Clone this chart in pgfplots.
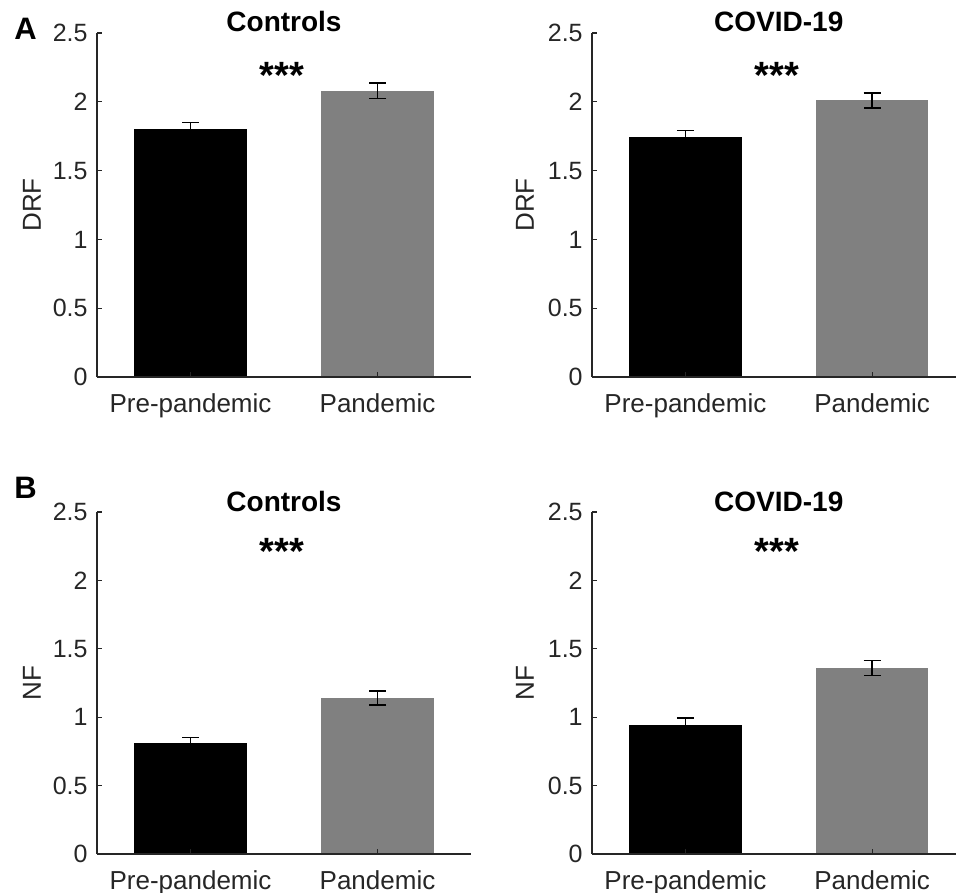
\documentclass[border=0pt]{standalone}
\usepackage{fontspec}
\setmainfont{Liberation Sans}
\usepackage{pgfplots}
\pgfplotsset{compat=1.18}

\definecolor{axgray}{RGB}{38,38,38}
\definecolor{bargray}{RGB}{128,128,128}

\pgfplotsset{
  panel/.style={
    scale only axis, width=187pt, height=172pt,
    ymin=0, ymax=2.5, ytick={0,0.5,1,1.5,2,2.5},
    yticklabels={0,0.5,1,1.5,2,2.5},
    xmin=0.5, xmax=2.5,
    xtick={1,2}, xticklabels={Pre-pandemic,Pandemic},
    axis x line*=bottom, axis y line*=left,
    axis line style={axgray, line width=0.8pt, -},
    tick style={axgray, line width=0.6pt},
    tick align=inside, major tick length=2.5pt,
    axis on top,
    yticklabel style={font=\fontsize{12.5}{15}\selectfont, text=axgray,
      anchor=east, inner sep=0pt, xshift=-4.5pt},
    xticklabel style={font=\fontsize{13}{15}\selectfont, text=axgray,
      anchor=base, inner sep=0pt, yshift=-17.5pt},
    ylabel style={font=\fontsize{13}{16}\selectfont, text=axgray, anchor=center},
    clip=false,
  },
  err/.style={error bars/.cd, y dir=both, y explicit,
    error bar style={black, line width=0.75pt},
    error mark options={rotate=90, black, line width=0.75pt, mark size=4.25pt}},
}
\newcommand{\ttl}[1]{\node[anchor=base, yshift=0.5pt, font=\bfseries\fontsize{14}{17}\selectfont] at (axis cs:1.5,2.5) {#1};}
\newcommand{\stars}[1]{\node[anchor=base, xshift=-1pt, font=\bfseries\fontsize{19}{22}\selectfont] at (axis cs:1.5,#1) {***};}

\begin{document}
\begin{tikzpicture}
\clip (0,0) rectangle (478pt,-446pt);

% A: Controls
\begin{axis}[panel, at={(48.5pt,-188.5pt)}, anchor=south west,
  ylabel={DRF}, ylabel style={at={(axis description cs:-0.174,0.5)}}]
\addplot[ybar, bar width=0.6, bar shift=0pt, fill=black, draw=black, err]
  coordinates {(1,1.80) +- (0,0.05)};
\addplot[ybar, bar width=0.6, bar shift=0pt, fill=bargray, draw=none, err]
  coordinates {(2,2.08) +- (0,0.055)};
\ttl{Controls}
\stars{2.095}
\end{axis}

% A: COVID-19
\begin{axis}[panel, width=182pt, xmax=2.449, at={(296pt,-188.5pt)}, anchor=south west,
  ylabel={DRF}, ylabel style={at={(axis description cs:-0.184,0.5)}}]
\addplot[ybar, bar width=0.6, bar shift=0pt, fill=black, draw=black, err]
  coordinates {(1,1.74) +- (0,0.05)};
\addplot[ybar, bar width=0.6, bar shift=0pt, fill=bargray, draw=none, err]
  coordinates {(2,2.01) +- (0,0.055)};
\ttl{COVID-19}
\stars{2.095}
\end{axis}

% B: Controls
\begin{axis}[panel, height=171pt, at={(48.5pt,-427pt)}, anchor=south west,
  ylabel={NF}, ylabel style={at={(axis description cs:-0.174,0.5)}}]
\addplot[ybar, bar width=0.6, bar shift=0pt, fill=black, draw=black, err]
  coordinates {(1,0.81) +- (0,0.04)};
\addplot[ybar, bar width=0.6, bar shift=0pt, fill=bargray, draw=none, err]
  coordinates {(2,1.14) +- (0,0.05)};
\ttl{Controls}
\stars{2.115}
\end{axis}

% B: COVID-19
\begin{axis}[panel, width=182pt, height=171pt, xmax=2.449, at={(296pt,-427pt)}, anchor=south west,
  ylabel={NF}, ylabel style={at={(axis description cs:-0.184,0.5)}}]
\addplot[ybar, bar width=0.6, bar shift=0pt, fill=black, draw=black, err]
  coordinates {(1,0.94) +- (0,0.055)};
\addplot[ybar, bar width=0.6, bar shift=0pt, fill=bargray, draw=none, err]
  coordinates {(2,1.36) +- (0,0.055)};
\ttl{COVID-19}
\stars{2.115}
\end{axis}

\node[anchor=base west, inner sep=0pt, font=\bfseries\fontsize{15.5}{18}\selectfont] at (7pt,-20pt) {A};
\node[anchor=base west, inner sep=0pt, font=\bfseries\fontsize{15.5}{18}\selectfont] at (7pt,-249pt) {B};
\end{tikzpicture}
\end{document}
